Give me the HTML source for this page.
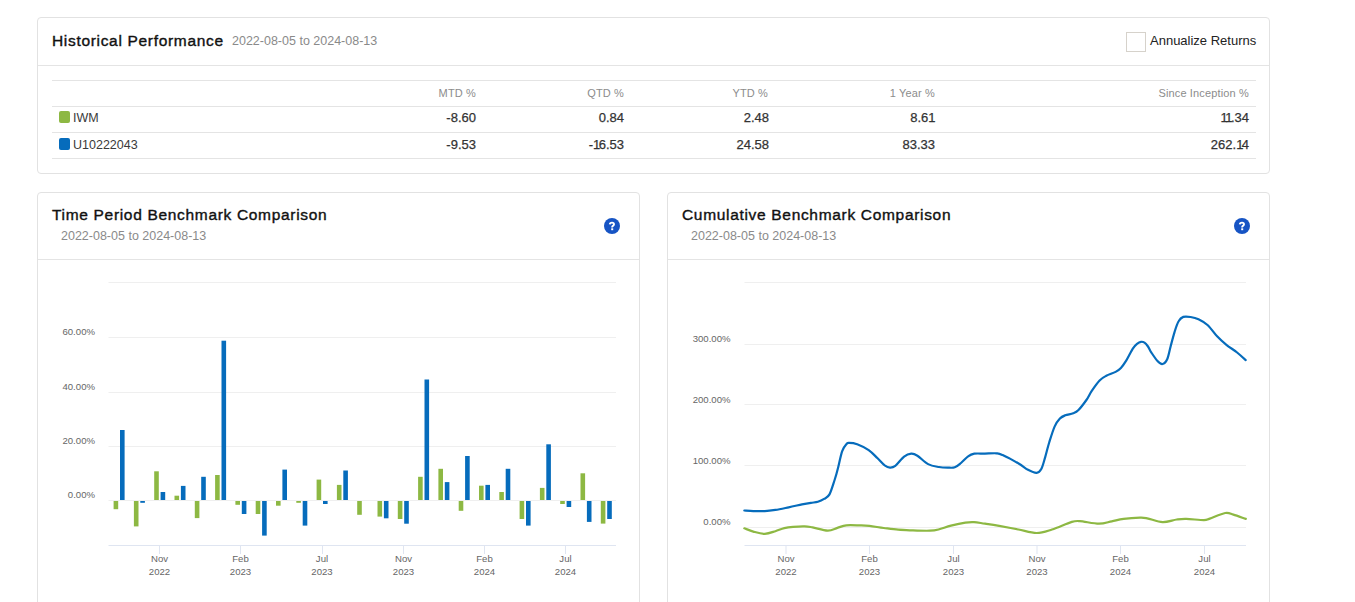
<!DOCTYPE html>
<html><head><meta charset="utf-8">
<style>
html,body{margin:0;padding:0;background:#fff;width:1355px;height:602px;overflow:hidden;position:relative;font-family:"Liberation Sans",sans-serif;}
.panel{position:absolute;box-sizing:border-box;border:1px solid #e2e2e2;border-radius:4px;background:#fff;}
.t{position:absolute;white-space:nowrap;line-height:1;}
.title{font-size:15.5px;font-weight:400;color:#111;letter-spacing:0.68px;-webkit-text-stroke:0.38px #111;}
.date{font-size:12.5px;color:#8a8a8a;}
.hl{position:absolute;height:1px;background:#e4e4e4;}
.th{font-size:11px;color:#8c8c8c;text-align:right;letter-spacing:0.15px;}
.td{font-size:13px;color:#333;text-align:right;-webkit-text-stroke:0.25px #333;}
.help{position:absolute;}
.n1{letter-spacing:-1.6px;}
svg.chart{position:absolute;left:0;top:0;}
</style></head><body>
<div class="panel" style="left:37px;top:17px;width:1233px;height:157px;"></div>
<div class="hl" style="left:38px;top:65px;width:1231px;"></div>
<div class="t title" style="left:52px;top:33px;">Historical Performance</div>
<div class="t date" style="left:232px;top:35px;">2022-08-05 to 2024-08-13</div>
<div style="position:absolute;left:1126px;top:32px;width:18px;height:18px;border:1px solid #d6d2cb;"></div>
<div class="t" style="left:1150px;top:34px;font-size:13px;color:#222;">Annualize Returns</div>

<div class="hl" style="left:52px;top:80px;width:1204px;"></div>
<div class="hl" style="left:52px;top:106px;width:1204px;"></div>
<div class="hl" style="left:52px;top:132px;width:1204px;"></div>
<div class="hl" style="left:52px;top:158px;width:1204px;"></div>

<div class="t th" style="right:879px;top:88px;">MTD %</div>
<div class="t th" style="right:731px;top:88px;">QTD %</div>
<div class="t th" style="right:587px;top:88px;">YTD %</div>
<div class="t th" style="right:420px;top:88px;">1 Year %</div>
<div class="t th" style="right:106px;top:88px;">Since Inception %</div>

<div style="position:absolute;left:59px;top:111px;width:11px;height:12px;border-radius:2px;background:#8db843;"></div>
<div class="t" style="left:73px;top:112px;font-size:12.5px;color:#3a3a3a;">IWM</div>
<div style="position:absolute;left:59px;top:138px;width:11px;height:12px;border-radius:2px;background:#066cbc;"></div>
<div class="t" style="left:73px;top:139px;font-size:12.5px;color:#3a3a3a;">U10222043</div>

<div class="t td" style="right:879px;top:111px;">-8.60</div>
<div class="t td" style="right:731px;top:111px;">0.84</div>
<div class="t td" style="right:586px;top:111px;">2.48</div>
<div class="t td" style="right:421px;top:111px;">8.6<span class="n1">1</span></div>
<div class="t td" style="right:106px;top:111px;"><span class="n1">1</span><span class="n1">1</span>.34</div>
<div class="t td" style="right:879px;top:138px;">-9.53</div>
<div class="t td" style="right:731px;top:138px;">-<span class="n1">1</span>6.53</div>
<div class="t td" style="right:586px;top:138px;">24.58</div>
<div class="t td" style="right:420px;top:138px;">83.33</div>
<div class="t td" style="right:106px;top:138px;">262.<span class="n1">1</span>4</div>

<div class="panel" style="left:37px;top:192px;width:603px;height:430px;"></div>
<div class="hl" style="left:38px;top:259px;width:601px;"></div>
<div class="t title" style="left:52px;top:207px;">Time Period Benchmark Comparison</div>
<div class="t date" style="left:61px;top:230px;">2022-08-05 to 2024-08-13</div>
<svg class="help" style="left:604px;top:218px" width="16" height="16" viewBox="0 0 16 16"><circle cx="8" cy="8" r="8" fill="#1654c4"/><path d="M5.8,6.4 C5.9,5.2 6.8,4.6 8,4.6 C9.2,4.6 10,5.3 10,6.3 C10,7.2 9.4,7.5 8.9,7.9 C8.4,8.2 8.1,8.5 8.1,9.5" fill="none" stroke="#fff" stroke-width="1.9"/><rect x="7.2" y="10.3" width="2" height="1.9" fill="#fff"/></svg>

<div class="panel" style="left:667px;top:192px;width:603px;height:430px;"></div>
<div class="hl" style="left:668px;top:259px;width:601px;"></div>
<div class="t title" style="left:682px;top:207px;">Cumulative Benchmark Comparison</div>
<div class="t date" style="left:691px;top:230px;">2022-08-05 to 2024-08-13</div>
<svg class="help" style="left:1234px;top:218px" width="16" height="16" viewBox="0 0 16 16"><circle cx="8" cy="8" r="8" fill="#1654c4"/><path d="M5.8,6.4 C5.9,5.2 6.8,4.6 8,4.6 C9.2,4.6 10,5.3 10,6.3 C10,7.2 9.4,7.5 8.9,7.9 C8.4,8.2 8.1,8.5 8.1,9.5" fill="none" stroke="#fff" stroke-width="1.9"/><rect x="7.2" y="10.3" width="2" height="1.9" fill="#fff"/></svg>

<svg class="chart" width="1355" height="602" viewBox="0 0 1355 602" font-family="Liberation Sans" font-size="9.6" fill="#666">
<g stroke="#efefef" stroke-width="1" fill="none">
<path d="M108.5,282.5H616M108.5,337.5H616M108.5,392.5H616M108.5,446.5H616M108.5,500.5H616"/>
<path d="M744.5,282.5H1246M744.5,344.5H1246M744.5,404.5H1246M744.5,465.5H1246M744.5,527.5H1246"/>
</g>
<g stroke="#dfe5f1" stroke-width="1" fill="none">
<path d="M108.5,545.5H616"/>
<path d="M159.5,545V554M240.5,545V554M322.5,545V554M403.5,545V554M484.5,545V554M565.5,545V554"/>
<path d="M744.5,545.5H1246"/>
<path d="M786,545V554M869.5,545V554M953.5,545V554M1037,545V554M1120.5,545V554M1204.5,545V554"/>
</g>
<g text-anchor="end">
<text x="95" y="335">60.00%</text>
<text x="95" y="390">40.00%</text>
<text x="95" y="444">20.00%</text>
<text x="95" y="498">0.00%</text>
<text x="730.5" y="342">300.00%</text>
<text x="730.5" y="403">200.00%</text>
<text x="730.5" y="464">100.00%</text>
<text x="730.5" y="525">0.00%</text>
</g>
<g text-anchor="middle">
<text x="159.5" y="562">Nov</text><text x="159.5" y="575">2022</text>
<text x="240.5" y="562">Feb</text><text x="240.5" y="575">2023</text>
<text x="322" y="562">Jul</text><text x="322" y="575">2023</text>
<text x="403.5" y="562">Nov</text><text x="403.5" y="575">2023</text>
<text x="484.5" y="562">Feb</text><text x="484.5" y="575">2024</text>
<text x="565.5" y="562">Jul</text><text x="565.5" y="575">2024</text>
<text x="786" y="562">Nov</text><text x="786" y="575">2022</text>
<text x="869.5" y="562">Feb</text><text x="869.5" y="575">2023</text>
<text x="953.5" y="562">Jul</text><text x="953.5" y="575">2023</text>
<text x="1037" y="562">Nov</text><text x="1037" y="575">2023</text>
<text x="1120.5" y="562">Feb</text><text x="1120.5" y="575">2024</text>
<text x="1204.5" y="562">Jul</text><text x="1204.5" y="575">2024</text>
</g>
<rect x="113.60" y="501.00" width="4.6" height="8.20" fill="#8db843"/>
<rect x="120.00" y="430.00" width="4.6" height="70.00" fill="#066cbc"/>
<rect x="133.90" y="501.00" width="4.6" height="25.40" fill="#8db843"/>
<rect x="140.30" y="501.00" width="4.6" height="1.80" fill="#066cbc"/>
<rect x="154.20" y="471.30" width="4.6" height="28.70" fill="#8db843"/>
<rect x="160.60" y="492.00" width="4.6" height="8.00" fill="#066cbc"/>
<rect x="174.50" y="495.70" width="4.6" height="4.30" fill="#8db843"/>
<rect x="180.90" y="485.90" width="4.6" height="14.10" fill="#066cbc"/>
<rect x="194.80" y="501.00" width="4.6" height="17.10" fill="#8db843"/>
<rect x="201.20" y="476.80" width="4.6" height="23.20" fill="#066cbc"/>
<rect x="215.10" y="475.00" width="4.6" height="25.00" fill="#8db843"/>
<rect x="221.50" y="340.70" width="4.6" height="159.30" fill="#066cbc"/>
<rect x="235.40" y="501.00" width="4.6" height="3.80" fill="#8db843"/>
<rect x="241.80" y="501.00" width="4.6" height="13.00" fill="#066cbc"/>
<rect x="255.70" y="501.00" width="4.6" height="13.00" fill="#8db843"/>
<rect x="262.10" y="501.00" width="4.6" height="34.60" fill="#066cbc"/>
<rect x="276.00" y="501.00" width="4.6" height="4.70" fill="#8db843"/>
<rect x="282.40" y="469.60" width="4.6" height="30.40" fill="#066cbc"/>
<rect x="296.30" y="501.00" width="4.6" height="1.80" fill="#8db843"/>
<rect x="302.70" y="501.00" width="4.6" height="24.60" fill="#066cbc"/>
<rect x="316.60" y="479.60" width="4.6" height="20.40" fill="#8db843"/>
<rect x="323.00" y="501.00" width="4.6" height="3.00" fill="#066cbc"/>
<rect x="336.90" y="484.90" width="4.6" height="15.10" fill="#8db843"/>
<rect x="343.30" y="470.50" width="4.6" height="29.50" fill="#066cbc"/>
<rect x="357.20" y="501.00" width="4.6" height="13.80" fill="#8db843"/>

<rect x="377.50" y="501.00" width="4.6" height="15.60" fill="#8db843"/>
<rect x="383.90" y="501.00" width="4.6" height="17.30" fill="#066cbc"/>
<rect x="397.80" y="501.00" width="4.6" height="18.00" fill="#8db843"/>
<rect x="404.20" y="501.00" width="4.6" height="22.70" fill="#066cbc"/>
<rect x="418.10" y="476.80" width="4.6" height="23.20" fill="#8db843"/>
<rect x="424.50" y="379.50" width="4.6" height="120.50" fill="#066cbc"/>
<rect x="438.40" y="468.80" width="4.6" height="31.20" fill="#8db843"/>
<rect x="444.80" y="482.10" width="4.6" height="17.90" fill="#066cbc"/>
<rect x="458.70" y="501.00" width="4.6" height="9.80" fill="#8db843"/>
<rect x="465.10" y="456.00" width="4.6" height="44.00" fill="#066cbc"/>
<rect x="479.00" y="485.70" width="4.6" height="14.30" fill="#8db843"/>
<rect x="485.40" y="484.90" width="4.6" height="15.10" fill="#066cbc"/>
<rect x="499.30" y="492.00" width="4.6" height="8.00" fill="#8db843"/>
<rect x="505.70" y="468.80" width="4.6" height="31.20" fill="#066cbc"/>
<rect x="519.60" y="501.00" width="4.6" height="18.00" fill="#8db843"/>
<rect x="526.00" y="501.00" width="4.6" height="24.60" fill="#066cbc"/>
<rect x="539.90" y="487.90" width="4.6" height="12.10" fill="#8db843"/>
<rect x="546.30" y="444.30" width="4.6" height="55.70" fill="#066cbc"/>
<rect x="560.20" y="501.00" width="4.6" height="3.00" fill="#8db843"/>
<rect x="566.60" y="501.00" width="4.6" height="6.00" fill="#066cbc"/>
<rect x="580.50" y="473.30" width="4.6" height="26.70" fill="#8db843"/>
<rect x="586.90" y="501.00" width="4.6" height="20.90" fill="#066cbc"/>
<rect x="600.80" y="501.00" width="4.6" height="22.60" fill="#8db843"/>
<rect x="607.20" y="501.00" width="4.6" height="18.00" fill="#066cbc"/>
<path d="M744.3,528.3 C745.8,528.8 749.9,530.7 753.3,531.6 C756.7,532.5 761.1,533.9 764.8,533.8 C768.5,533.7 772.1,532.2 775.4,531.2 C778.6,530.2 781.3,528.8 784.3,528.1 C787.2,527.4 789.7,527.1 793.1,526.8 C796.5,526.5 801.5,526.2 804.7,526.3 C808.0,526.4 808.8,526.7 812.6,527.4 C816.4,528.1 823.6,530.5 827.7,530.6 C831.8,530.7 834.3,528.8 837.4,527.9 C840.5,527.0 842.5,525.7 846.3,525.3 C850.1,524.9 856.1,525.3 860.0,525.4 C863.9,525.5 865.4,525.5 869.4,525.9 C873.4,526.3 879.0,527.4 883.8,528.0 C888.6,528.6 893.4,529.3 898.2,529.7 C903.0,530.1 907.3,530.2 912.6,530.4 C917.9,530.6 925.6,530.9 929.9,530.7 C934.2,530.6 935.0,530.4 938.5,529.5 C942.0,528.6 946.5,526.8 951.0,525.6 C955.5,524.5 961.6,523.2 965.4,522.6 C969.2,522.0 970.7,521.9 974.0,522.1 C977.3,522.3 980.8,523.1 985.0,523.7 C989.2,524.3 993.6,524.9 999.2,525.9 C1004.8,526.9 1012.2,528.3 1018.4,529.5 C1024.6,530.7 1031.0,533.0 1036.6,533.0 C1042.2,533.0 1046.2,531.3 1052.0,529.5 C1057.8,527.7 1066.6,523.5 1071.2,522.1 C1075.8,520.7 1075.2,520.8 1079.8,521.1 C1084.4,521.4 1093.7,523.7 1099.0,523.7 C1104.3,523.7 1107.7,522.1 1111.8,521.3 C1115.9,520.5 1118.9,519.5 1123.6,518.9 C1128.3,518.3 1136.2,517.8 1140.1,517.7 C1144.0,517.6 1143.5,517.6 1147.2,518.3 C1151.0,519.0 1157.7,521.9 1162.6,522.1 C1167.5,522.3 1172.9,520.0 1176.8,519.5 C1180.7,519.0 1181.7,518.8 1186.2,518.9 C1190.7,519.0 1200.0,520.1 1203.9,520.1 C1207.8,520.1 1206.2,519.8 1209.8,518.6 C1213.3,517.4 1221.3,513.7 1225.2,513.0 C1229.1,512.3 1230.0,513.6 1233.4,514.6 C1236.8,515.6 1243.7,518.2 1245.8,518.9" fill="none" stroke="#8db843" stroke-width="2.2" stroke-linejoin="round" stroke-linecap="round"/>
<path d="M744.3,510.5 C745.8,510.6 749.9,511.0 753.3,511.1 C756.7,511.2 761.1,511.3 764.8,511.1 C768.5,510.9 771.4,510.5 775.4,509.9 C779.4,509.3 784.3,508.2 788.7,507.3 C793.1,506.4 798.3,505.1 802.0,504.3 C805.7,503.6 808.2,503.2 810.9,502.8 C813.5,502.4 815.7,502.5 817.9,501.8 C820.1,501.1 822.2,500.1 824.1,498.9 C826.0,497.7 827.8,497.5 829.5,494.4 C831.2,491.2 833.1,484.5 834.6,480.0 C836.1,475.5 837.0,472.0 838.2,467.2 C839.5,462.4 840.7,455.2 842.1,451.3 C843.5,447.4 845.4,445.4 846.6,444.0 C847.8,442.6 847.4,442.8 849.2,442.8 C851.0,442.8 854.0,443.0 857.2,444.2 C860.5,445.4 865.3,447.8 868.7,450.2 C872.1,452.6 874.9,455.8 877.6,458.3 C880.3,460.8 882.6,463.8 884.7,465.4 C886.8,466.9 888.2,467.5 890.0,467.6 C891.8,467.7 892.9,467.7 895.3,465.9 C897.6,464.1 901.5,458.6 904.1,456.6 C906.8,454.6 909.0,453.9 911.2,453.7 C913.4,453.5 914.6,454.0 917.4,455.7 C920.2,457.4 924.5,462.2 928.1,464.1 C931.7,466.0 935.6,466.4 938.9,467.0 C942.2,467.6 945.1,467.6 947.7,467.6 C950.4,467.7 952.6,468.1 954.8,467.3 C957.0,466.5 958.8,464.8 961.0,463.0 C963.2,461.2 965.9,457.9 968.1,456.4 C970.3,454.8 971.5,454.2 974.3,453.7 C977.1,453.2 981.2,453.7 984.9,453.6 C988.6,453.5 993.4,453.1 996.4,453.3 C999.4,453.6 998.9,453.4 1002.6,455.1 C1006.3,456.8 1014.4,461.1 1018.6,463.5 C1022.8,465.9 1025.0,468.2 1028.0,469.8 C1031.0,471.4 1034.4,472.9 1036.6,472.8 C1038.8,472.7 1039.9,471.7 1041.3,469.1 C1042.7,466.5 1043.9,461.5 1045.2,457.1 C1046.5,452.7 1047.6,447.6 1049.2,442.5 C1050.8,437.4 1052.8,430.6 1054.6,426.6 C1056.4,422.6 1058.1,420.5 1059.9,418.6 C1061.7,416.7 1063.0,416.2 1065.2,415.3 C1067.4,414.4 1071.0,414.2 1073.2,413.3 C1075.4,412.4 1076.3,412.2 1078.5,410.0 C1080.7,407.8 1084.2,403.1 1086.4,400.0 C1088.6,396.9 1089.4,394.4 1091.6,391.1 C1093.8,387.9 1097.1,383.1 1099.6,380.5 C1102.0,377.9 1103.6,377.2 1106.3,375.8 C1109.0,374.4 1113.2,373.2 1115.6,371.9 C1118.0,370.6 1119.1,369.8 1120.9,367.9 C1122.7,366.0 1124.2,363.8 1126.2,360.6 C1128.2,357.4 1131.0,351.4 1132.8,348.6 C1134.6,345.8 1135.6,344.9 1137.0,343.8 C1138.4,342.7 1139.8,342.0 1141.0,341.8 C1142.2,341.6 1143.3,341.8 1144.5,342.6 C1145.7,343.4 1146.8,344.8 1148.0,346.5 C1149.2,348.2 1149.8,350.2 1151.4,352.6 C1153.0,355.0 1155.7,359.1 1157.5,361.0 C1159.3,362.9 1160.9,364.3 1162.5,364.0 C1164.1,363.7 1166.0,361.9 1167.3,359.0 C1168.6,356.1 1169.4,351.0 1170.6,346.5 C1171.8,342.0 1173.3,336.1 1174.6,331.9 C1175.9,327.7 1177.1,323.8 1178.6,321.3 C1180.0,318.8 1181.3,317.6 1183.3,316.9 C1185.3,316.2 1188.1,316.6 1190.6,317.0 C1193.1,317.4 1195.6,317.9 1198.5,319.3 C1201.4,320.7 1204.7,322.4 1207.8,325.2 C1210.9,328.0 1214.0,333.0 1217.1,336.3 C1220.2,339.6 1223.1,342.1 1226.4,344.8 C1229.7,347.5 1233.9,349.9 1237.1,352.5 C1240.3,355.1 1244.3,358.8 1245.7,360.1" fill="none" stroke="#066cbc" stroke-width="2.2" stroke-linejoin="round" stroke-linecap="round"/>
</svg>
</body></html>
